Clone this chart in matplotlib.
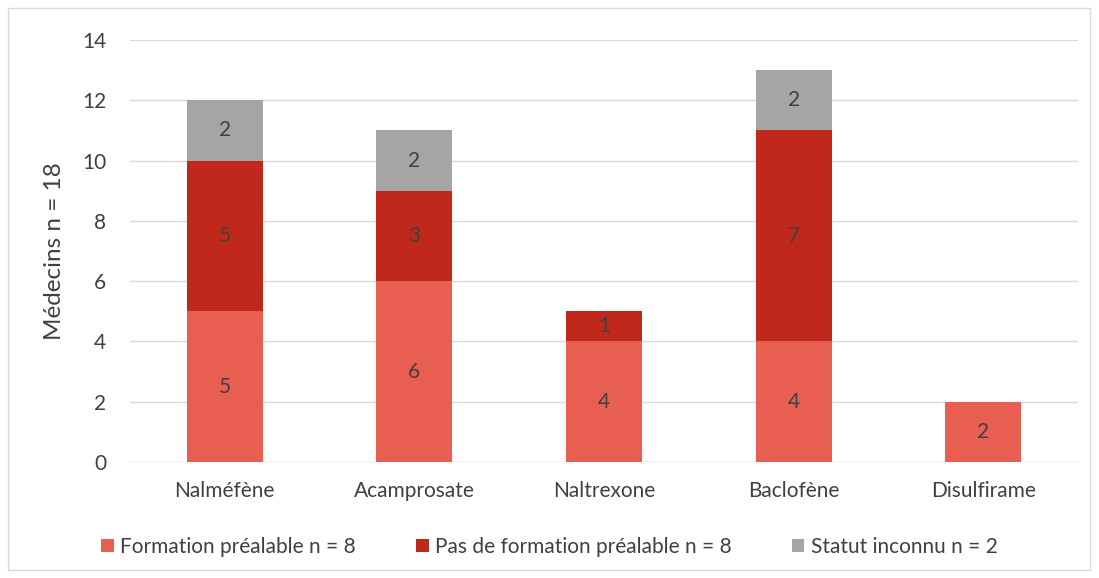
import numpy as np
import matplotlib.pyplot as plt
from matplotlib.patches import Rectangle

# Data
drugs = ["Nalméfène", "Acamprosate", "Naltrexone", "Baclofène", "Disulfirame"]
formation = [5, 6, 4, 4, 2]
pas_formation = [5, 3, 1, 7, 0]
inconnu = [2, 2, 0, 2, 0]
series_names = ["Formation préalable n = 8", "Pas de formation préalable n = 8",
                "Statut inconnu n = 2"]
colors = ["#E85E50", "#C0281C", "#A5A5A5"]
text_col = "#404040"

plt.rcParams['font.family'] = ['Lato', 'DejaVu Sans']

fig = plt.figure(figsize=(10.99, 5.78), dpi=100)
ax = fig.add_axes([130/1099, 116/578, 948/1099, 422/578])

# outer chart border
fig.patches.append(Rectangle((8/1099, 8/578), 1082/1099, 562/578, transform=fig.transFigure,
                             fill=False, edgecolor="#D9D9D9", lw=1))

x = np.arange(len(drugs))
bottom = np.zeros(len(drugs))
for vals, name, c in zip([formation, pas_formation, inconnu], series_names, colors):
    vals = np.array(vals)
    bars = ax.bar(x, vals, 0.4, bottom=bottom, color=c, label=name, zorder=3)
    for b, v, b0 in zip(bars, vals, bottom):
        if v > 0:
            ax.text(b.get_x() + b.get_width()/2, b0 + v/2, str(v), ha="center", va="center",
                    fontsize=15, color=text_col, zorder=4)
    bottom += vals

ax.set_xlim(-0.5, len(drugs) - 0.5)
ax.set_ylim(0, 14)
ax.set_yticks(np.arange(0, 15, 2))
ax.set_xticks(x)
ax.set_xticklabels(drugs)
ax.tick_params(axis="both", length=0, labelsize=15, labelcolor=text_col)
ax.tick_params(axis="y", pad=17)
ax.tick_params(axis="x", pad=14)
ax.grid(axis="y", color="#D9D9D9", lw=1, zorder=0)
for s in ax.spines.values():
    s.set_visible(False)
ax.axhline(0, color="#D9D9D9", lw=1, zorder=2)
ax.set_ylabel("Médecins n = 18", fontsize=17.5, color=text_col, labelpad=12)

fig.legend(loc="center", bbox_to_anchor=(0.5, 1 - 547/578), ncol=3, frameon=False,
           fontsize=15, handlelength=0.6, handleheight=0.6, handletextpad=0.3,
           columnspacing=2.9, labelcolor=text_col)

fig.savefig("out.png", dpi=100)
